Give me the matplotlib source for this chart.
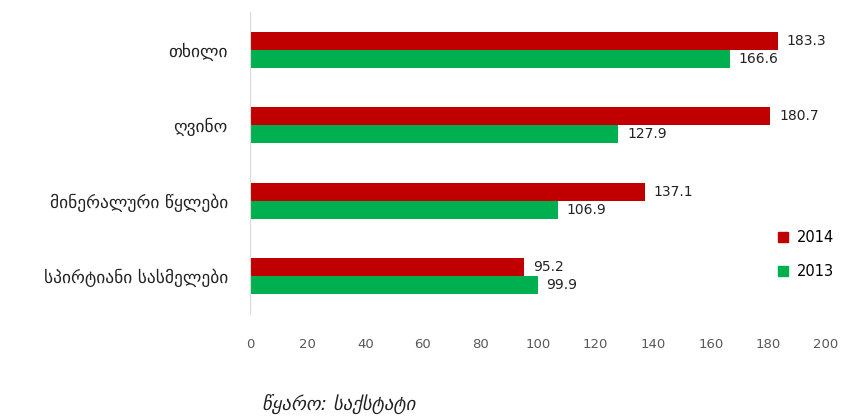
import numpy as np
import matplotlib.pyplot as plt
from matplotlib.patches import Patch

plt.rcParams['font.family'] = ['DejaVu Sans']

categories = ["თხილი", "ღვინო", "მინერალური წყლები", "სპირტიანი სასმელები"]
values_2014 = [183.3, 180.7, 137.1, 95.2]
values_2013 = [166.6, 127.9, 106.9, 99.9]
series_names = ["2014", "2013"]
x_ticks = [0, 20, 40, 60, 80, 100, 120, 140, 160, 180, 200]

red = "#C00000"
green = "#00B050"

fig = plt.figure(figsize=(8.45, 4.17), dpi=100)
ax = fig.add_axes([0.296, 0.247, 0.6815, 0.724])

y = np.arange(len(categories))
h = 0.24

ax.barh(y - h / 2, values_2014, height=h, color=red)
ax.barh(y + h / 2, values_2013, height=h, color=green)

for yi, v in zip(y, values_2014):
    ax.text(v + 3, yi - h / 2, f"{v:.1f}", va="center", ha="left",
            fontsize=10, color="#222222")
for yi, v in zip(y, values_2013):
    ax.text(v + 3, yi + h / 2, f"{v:.1f}", va="center", ha="left",
            fontsize=10, color="#222222")

ax.set_xlim(0, 200)
ax.set_ylim(len(categories) - 0.5, -0.5)
ax.set_xticks(x_ticks)
ax.set_xticklabels([str(t) for t in x_ticks])
ax.set_yticks(y)
ax.set_yticklabels(categories)

ax.tick_params(axis="x", length=0, labelsize=9.5, labelcolor="#595959", pad=17)
ax.tick_params(axis="y", length=0, labelsize=12.5, labelcolor="#222222", pad=16)

for s in ["top", "right", "bottom"]:
    ax.spines[s].set_visible(False)
ax.spines["left"].set_color("#D9D9D9")

handles = [Patch(color=red), Patch(color=green)]
fig.legend(handles, series_names, loc="center left",
           bbox_to_anchor=(0.905, 0.39), frameon=False, fontsize=10.5,
           handlelength=0.7, handleheight=0.7, handletextpad=0.6,
           labelspacing=1.3)

fig.text(0.31, 0.018, "წყარო: საქსტატი", fontsize=13.5, style="italic",
         color="#222222")

fig.savefig("out.png", dpi=100)
